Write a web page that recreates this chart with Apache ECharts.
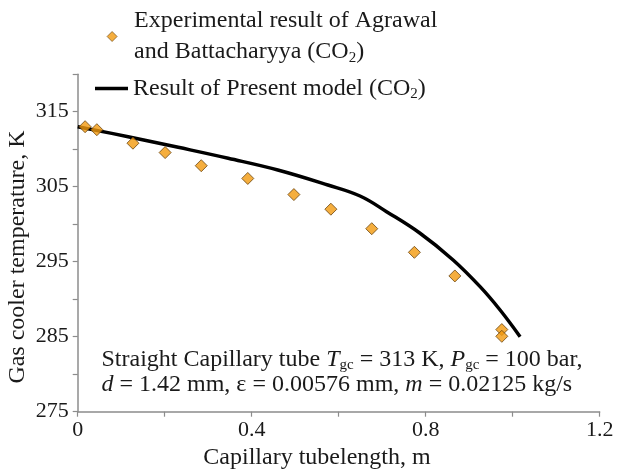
<!DOCTYPE html>
<html><head><meta charset="utf-8">
<script src="https://cdn.jsdelivr.net/npm/echarts@6/dist/echarts.min.js"></script>
<style>html,body{margin:0;padding:0;background:#fff}#c{width:617px;height:470px}</style>
</head><body><div id="c"></div>
<script>
const expX = [0.017, 0.044, 0.127, 0.201, 0.284, 0.391, 0.497, 0.582, 0.676, 0.774, 0.867, 0.975, 0.975];
const expY = [313.0, 312.6, 310.8, 309.55, 307.8, 306.1, 303.95, 302.0, 299.4, 296.25, 293.1, 285.95, 285.05];
const modelX = [0.0, 0.116, 0.231, 0.346, 0.460, 0.575, 0.649, 0.710, 0.787, 0.863, 0.925, 0.971, 1.017];
const modelY = [313.0, 311.67, 310.25, 308.79, 307.23, 305.23, 303.76, 301.67, 298.79, 295.23, 291.67, 288.56, 285.0];
const xTickLabels = ['0', '0.4', '0.8', '1.2'];
const yTickLabels = ['275', '285', '295', '305', '315'];

const FONT = '"Liberation Serif", "Times New Roman", serif';
const TXT = '#1a1a1a';
const chart = echarts.init(document.getElementById('c'), null, {renderer: 'canvas'});
const expName = 'Experimental result of Agrawal and Battacharyya (CO2)';
const modelName = 'Result of Present model (CO2)';
const richLeg = {
  a: {fontFamily: FONT, fontSize: 24, color: TXT, lineHeight: 31},
  s: {fontFamily: FONT, fontSize: 15, color: TXT, lineHeight: 31, padding: [12, 0, 0, 0]}
};
chart.setOption({
  animation: false,
  grid: {left: 77.7, right: 17.3, top: 74.2, bottom: 58.3},
  xAxis: {
    type: 'value', min: 0, max: 1.2, interval: 0.2,
    axisLine: {show: true, lineStyle: {color: '#8c8c8c', width: 1.5}},
    axisTick: {show: true, inside: false, length: 5, lineStyle: {color: '#8c8c8c', width: 1.2}},
    splitLine: {show: false},
    axisLabel: {
      fontFamily: FONT, fontSize: 22, color: TXT, margin: 8,
      formatter: v => { const k = Math.round(v * 10); return k % 4 === 0 ? xTickLabels[k / 4] : ''; }
    }
  },
  yAxis: {
    type: 'value', min: 275, max: 320, interval: 5,
    axisLine: {show: true, lineStyle: {color: '#8c8c8c', width: 1.5}},
    axisTick: {show: true, inside: false, length: 5, lineStyle: {color: '#8c8c8c', width: 1.2}},
    splitLine: {show: false},
    axisLabel: {
      fontFamily: FONT, fontSize: 22, color: TXT, margin: 9,
      formatter: v => { const k = Math.round(v - 275); return k % 10 === 0 && k <= 40 ? yTickLabels[k / 10] : ''; }
    }
  },
  legend: [
    {
      data: [{name: expName, icon: 'diamond'}], left: 106.7, top: 9, padding: 0,
      itemWidth: 10, itemHeight: 10, itemStyle: {borderColor: '#6a4510', borderWidth: 0.8},
      formatter: () => '{a|Experimental result of Agrawal}\n{a|and Battacharyya (CO}{s|2}{a|)}',
      textStyle: {rich: richLeg, padding: [0, 0, 0, 12]}
    },
    {
      data: [{name: modelName, icon: 'rect'}], left: 95, top: 75, padding: 0,
      itemWidth: 33, itemHeight: 3.5,
      formatter: () => '{a|Result of Present model (CO}{s|2}{a|)}',
      textStyle: {rich: richLeg, padding: [0, 0, 0, 0]}
    }
  ],
  series: [
    {
      name: modelName, type: 'line', data: modelX.map((x, i) => [x, modelY[i]]),
      smooth: 0.4, showSymbol: false,
      lineStyle: {color: '#000', width: 3.5}, itemStyle: {color: '#000'}, z: 2
    },
    {
      name: expName, type: 'scatter', data: expX.map((x, i) => [x, expY[i]]),
      symbol: 'diamond', symbolSize: 12,
      itemStyle: {color: '#F29A0E', borderColor: '#6a4510', borderWidth: 1}, z: 3
    }
  ],
  graphic: [
    {
      type: 'text', left: 101.5, top: 347.5,
      style: {
        text: '{a|Straight Capillary tube }{i|T}{s|gc}{a| = 313 K, }{i|P}{s|gc}{a| = 100 bar,}\n{i|d}{a| = 1.42 mm, ε = 0.00576 mm, }{i|m}{a| = 0.02125 kg/s}',
        rich: {
          a: {fontFamily: FONT, fontSize: 24, fill: TXT, lineHeight: 25},
          i: {fontFamily: FONT, fontSize: 24, fontStyle: 'italic', fill: TXT, lineHeight: 25},
          s: {fontFamily: FONT, fontSize: 15, fill: TXT, lineHeight: 25, padding: [10, 0, 0, 0]}
        }
      }
    },
    {
      type: 'text', x: 317, y: 458,
      style: {text: 'Capillary tubelength, m', fontFamily: FONT, fontSize: 24, fill: TXT, align: 'center', verticalAlign: 'middle'}
    },
    {
      type: 'text', x: 18, y: 257, rotation: Math.PI / 2,
      style: {text: 'Gas cooler temperature, K', fontFamily: FONT, fontSize: 24, fill: TXT, align: 'center', verticalAlign: 'middle'}
    }
  ]
});
</script></body></html>
